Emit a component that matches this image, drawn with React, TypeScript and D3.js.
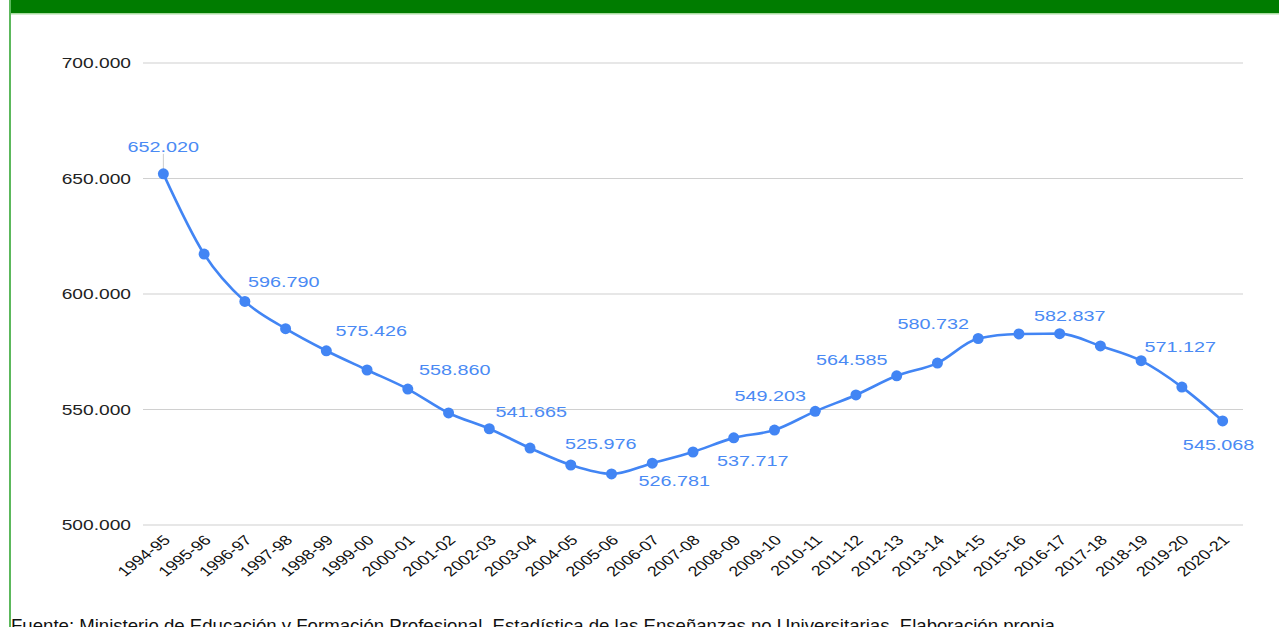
import React from 'react'
import * as d3 from 'd3'

const years = [
  '1994-95', '1995-96', '1996-97', '1997-98', '1998-99', '1999-00', '2000-01', '2001-02', '2002-03',
  '2003-04', '2004-05', '2005-06', '2006-07', '2007-08', '2008-09', '2009-10', '2010-11', '2011-12',
  '2012-13', '2013-14', '2014-15', '2015-16', '2016-17', '2017-18', '2018-19', '2019-20', '2020-21'
]

const students = [
  652020, 617300, 596790, 585000, 575426, 567100, 558860, 548500, 541665,
  533300, 525976, 522100, 526781, 531600, 537717, 541100, 549203, 556300,
  564585, 570100, 580732, 582700, 582837, 577500, 571127, 559700, 545068
]

const yTicks = [500000, 550000, 600000, 650000, 700000]

// which points carry a value label, and where its centre sits relative to the point
const labelled = [0, 2, 4, 6, 8, 10, 12, 14, 16, 18, 20, 22, 24, 26]
const labelOffsets: Record<number, [number, number]> = {
  0: [0, -27], 2: [39, -20], 4: [45, -20], 6: [47, -19], 8: [42, -17],
  10: [30, -21], 12: [22, 18], 14: [19, 23], 16: [-45, -16], 18: [-45, -16],
  20: [-45, -15], 22: [10, -18], 24: [39, -14], 26: [-4, 24]
}

const source = 'Fuente: Ministerio de Educación y Formación Profesional. Estadística de las Enseñanzas no Universitarias. Elaboración propia.'

const W = 1279
const H = 627
const margin = { top: 63, right: 36, bottom: 102, left: 143 }
const blue = '#4285f4'
const font = '"Liberation Sans", Arial, sans-serif'
// the original picture is stretched sideways, so its texts are wider than tall
const stretch = 1.28

const fmt = (v: number) => d3.format(',.0f')(v).replace(/,/g, '.')

export default function App() {
  const x = d3.scalePoint<string>().domain(years).range([margin.left, W - margin.right]).padding(0.5)
  const y = d3.scaleLinear().domain([500000, 700000]).range([H - margin.bottom, margin.top])

  const rows = years.map((yr, i) => ({ yr, v: students[i] }))
  const line = d3.line<{ yr: string; v: number }>()
    .x(d => x(d.yr) as number)
    .y(d => y(d.v))
    .curve(d3.curveMonotoneX)

  const tickLabel = (v: number) => d3.format('.3f')(v / 1000)

  return (
    <svg width={W} height={H} style={{ position: 'fixed', top: 0, left: 0, background: '#fff' }}>
      <rect x={10} y={0} width={W - 10} height={13} fill="#007c00" />
      <rect x={10} y={13} width={W - 10} height={1.5} fill="#a8dba0" />
      <rect x={9} y={0} width={2} height={H} fill="#5cb85c" />

      <g>
        {yTicks.map(t => (
          <g key={t}>
            <line x1={margin.left} x2={W - margin.right} y1={y(t)} y2={y(t)} stroke="#d0d0d0" strokeWidth={1.2} />
            <text transform={`translate(131,${y(t)}) scale(${stretch},1)`} dy="0.35em" textAnchor="end"
              fontFamily={font} fontSize={15} fill="#222">
              {tickLabel(t)}
            </text>
          </g>
        ))}
      </g>

      <g>
        {years.map(yr => (
          <text key={yr}
            transform={`translate(${(x(yr) as number) + 8},${H - margin.bottom + 16}) scale(${stretch},1) rotate(-45)`}
            textAnchor="end" fontFamily={font} fontSize={14} fill="#111">
            {yr}
          </text>
        ))}
      </g>

      <line x1={x(years[0]) as number} x2={x(years[0]) as number} y1={y(students[0]) - 4} y2={y(students[0]) - 20}
        stroke="#ccc" strokeWidth={1} />

      <path d={line(rows) || ''} fill="none" stroke={blue} strokeWidth={2.6} />
      <g>
        {rows.map(d => (
          <circle key={d.yr} cx={x(d.yr) as number} cy={y(d.v)} r={5.5} fill={blue} />
        ))}
      </g>

      <g>
        {labelled.map(i => {
          const [dx, dy] = labelOffsets[i]
          return (
            <text key={i}
              transform={`translate(${(x(years[i]) as number) + dx},${y(students[i]) + dy}) scale(1.32,1)`}
              dy="0.35em" textAnchor="middle" fontFamily={font} fontSize={15} fill="#4a8af4">
              {fmt(students[i])}
            </text>
          )
        })}
      </g>

      <text x={11} y={632} fontFamily={font} fontSize={18.6} fill="#111">{source}</text>
    </svg>
  )
}
